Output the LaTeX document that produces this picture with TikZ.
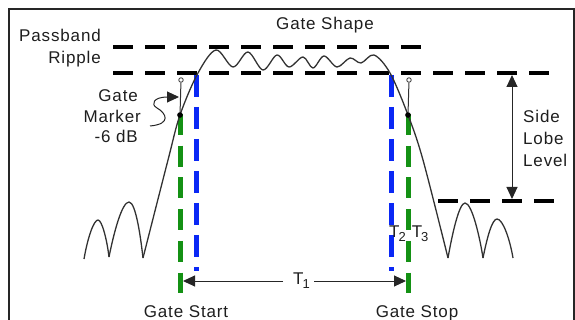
\documentclass[tikz,border=0pt]{standalone}
\usepackage{fontspec}
\setmainfont[LetterSpace=5]{Liberation Sans}
\usetikzlibrary{arrows.meta}
\definecolor{gblue}{RGB}{10,40,245}
\definecolor{ggreen}{RGB}{20,145,20}
\definecolor{wavec}{RGB}{50,50,50}
\definecolor{txt}{RGB}{30,30,30}
\tikzset{
  lbl/.style={inner sep=0pt, text=txt, font=\fontsize{17}{20}\selectfont},
  bdash/.style={line width=4.5pt, black, dash pattern=on 20pt off 12pt},
  bluedash/.style={line width=5pt, gblue, dash pattern=on 22pt off 10pt},
  greendash/.style={line width=5pt, ggreen, dash pattern=on 21pt off 10.7pt},
  wave/.style={line width=1.3pt, wavec, line join=round},
  tip/.style={-{Triangle[length=12pt,width=11pt]}},
  dtip/.style={{Triangle[length=12pt,width=11pt]}-{Triangle[length=12pt,width=11pt]}},
  frame/.style={line width=1.5pt, black!85},
}
\begin{document}
\begin{tikzpicture}[x=1pt,y=-1pt]
\useasboundingbox (0,0) rectangle (575,320);
\clip (0,0) rectangle (575,320);
% frame (open at bottom)
\draw[frame] (9,330) -- (9,9) -- (574,9) -- (574,330);

% reference dashed lines
\draw[bdash] (113,47) -- (422,47);
\draw[bdash] (113,73) -- (550,73);
\draw[bdash] (438,201) -- (556,201);

% gate lines
\draw[bluedash] (196,75) -- (196,271);
\draw[bluedash] (391,75) -- (391,271);
\draw[greendash] (180,114) -- (180,293);
\draw[greendash] (408,114) -- (408,293);

% response curve
\draw[wave] (84,259) .. controls (88,236) and (94,220) .. (98,220)
  .. controls (102,220) and (107,240) .. (109,257);
\draw[wave] (109,257) .. controls (114,232) and (122,202) .. (129,202)
  .. controls (136,202) and (141,240) .. (143,258);
\draw[wave] plot[smooth, tension=0.55] coordinates {
  (143,258) (168,160) (180,115) (198,73) (216,50) (233,67) (248,52)
  (263,70) (277,55) (289,67) (303,57) (313,68) (324,56) (337,67)
  (350,58) (361,63) (374,55) (390,73) (408,115) (423,160) (448,258)};
\draw[wave] (448,258) .. controls (452,235) and (459,203) .. (465,203)
  .. controls (472,203) and (480,238) .. (483,258);
\draw[wave] (483,258) .. controls (487,238) and (492,219) .. (497,219)
  .. controls (503,219) and (510,240) .. (513,258);

% gate markers
\node[circle, draw=wavec, line width=0.8pt, fill=white, inner sep=1.6pt] (mlc) at (181,80) {};
\node[circle, fill=black, inner sep=2pt] (mld) at (180,115) {};
\draw[wavec, line width=1pt] (mlc) -- (mld);
\node[circle, draw=wavec, line width=0.8pt, fill=white, inner sep=1.6pt] (mrc) at (409,80) {};
\node[circle, fill=black, inner sep=2pt] (mrd) at (408,115) {};
\draw[wavec, line width=1pt] (mrc) -- (mrd);

% labels
\node[lbl, anchor=base] (gshape) at (325,30) {Gate Shape};
\node[lbl, anchor=base east] (pb) at (101,42) {Passband};
\node[lbl, anchor=base east] (rp) at (101,64) {Ripple};
\node[lbl, anchor=base east] (gm1) at (138,102) {Gate};
\node[lbl, anchor=base east] (gm2) at (141,123) {Marker};
\node[lbl, anchor=base east] (gm3) at (138,143) {-6 dB};
\node[lbl, anchor=base west] (sl1) at (523,123) {Side};
\node[lbl, anchor=base west] (sl2) at (523,145) {Lobe};
\node[lbl, anchor=base west] (sl3) at (523,167) {Level};
\node[lbl, anchor=base] (gstart) at (186,317) {Gate Start};
\node[lbl, anchor=base] (gstop) at (417,317) {Gate Stop};
\node[lbl, anchor=base west, inner xsep=1pt] (t1) at (292,284)
  {T\kern-1pt\raisebox{-4pt}{\fontsize{13}{13}\selectfont 1}};
\node[lbl, anchor=base west] (t23) at (389,237)
  {T\kern-1pt\raisebox{-4pt}{\fontsize{13}{13}\selectfont 2}\kern6pt T\kern-1pt\raisebox{-4pt}{\fontsize{13}{13}\selectfont 3}};

% arrows
\coordinate (gsl) at (183,281);
\coordinate (gsr) at (406,281);
\draw[tip, line width=1pt, black!85] (t1.west |- 0,281) ++(-9,0) -- (gsl);
\draw[tip, line width=1pt, black!85] (t1.east |- 0,281) ++(3,0) -- (gsr);
\coordinate (slt) at (512,75);
\coordinate (slb) at (512,199);
\draw[dtip, line width=1pt, black!85] (slt) -- (slb);
\coordinate (sq) at (150,126);
\coordinate (mtip) at (179,97);
\draw[tip, line width=1pt, black!85] (sq) .. controls (172,124) and (166,113) .. (157,108)
  .. controls (150,104) and (154,97) .. (mtip);
\end{tikzpicture}
\end{document}
